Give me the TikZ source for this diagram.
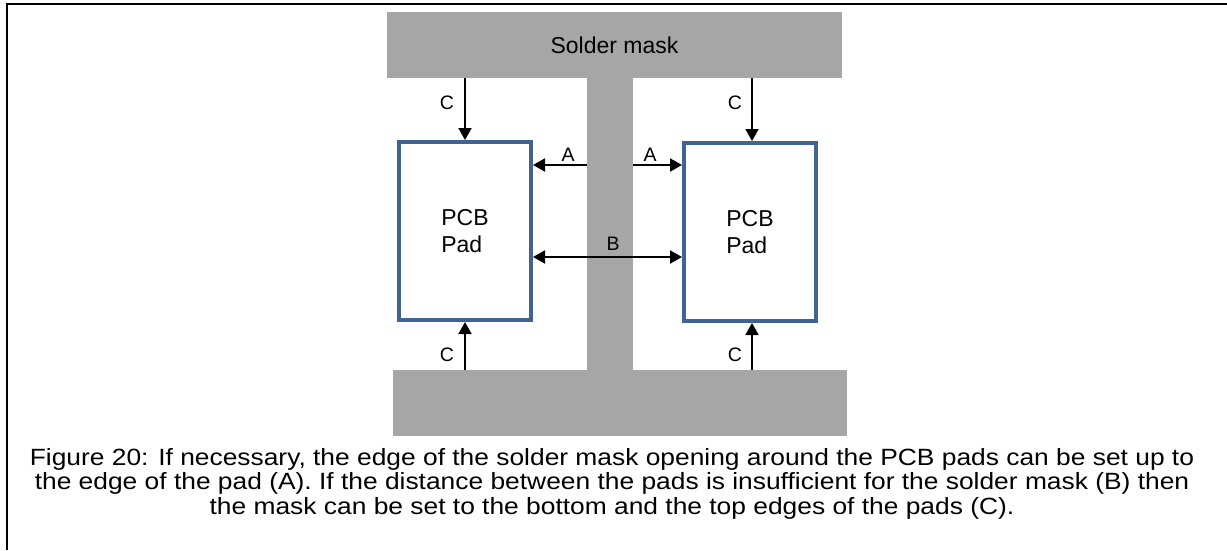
\documentclass[tikz,border=0pt]{standalone}
\usepackage{graphicx}
\usepackage{fontspec}
\setmainfont{Liberation Sans}
\usetikzlibrary{arrows.meta}
\definecolor{maskgray}{RGB}{166,166,166}
\definecolor{padblue}{RGB}{64,99,145}
\tikzset{
  maskpart/.style={fill=maskgray, draw=none, inner sep=0pt, outer sep=0pt},
  padbox/.style={draw=padblue, line width=4pt, fill=white, inner sep=0pt,
    minimum width=132pt, minimum height=178pt, align=left,
    font=\fontsize{23}{27}\selectfont},
  arr/.style={-{Triangle[length=12pt,width=13pt]}, line width=2pt, black},
  darr/.style={{Triangle[length=12pt,width=13pt]}-{Triangle[length=12pt,width=13pt]}, line width=2pt, black},
  lbl/.style={font=\fontsize{19.5}{22}\selectfont, inner sep=0pt},
  capt/.style={inner sep=0pt}
}
\begin{document}
\begin{tikzpicture}[x=1pt,y=-1pt]
\useasboundingbox (0,0) rectangle (1227,550);
% frame
\draw[line width=2.5pt] (7,550) -- (7,4) -- (1227,4);
% solder mask
\node[maskpart, minimum width=46pt, minimum height=294pt] (stem) at (610,224) {};
\node[maskpart, minimum width=455pt, minimum height=66pt,
      font=\fontsize{23}{27}\selectfont] (maskTop) at (614.5,45) {Solder mask};
\node[maskpart, minimum width=454pt, minimum height=66pt] (maskBot) at (620,403) {};
% pads
\node[padbox] (padL) at (465,231) {PCB\\Pad};
\node[padbox] (padR) at (750,232) {PCB\\Pad};
% helper coordinates for arrow rows
\coordinate (ya) at (0,165);
\coordinate (yb) at (0,257);
% C arrows
\draw[arr] (padL.north |- maskTop.south) -- (padL.north);
\draw[arr] ([xshift=2pt]padR.north |- maskTop.south) -- ([xshift=2pt]padR.north);
\draw[arr] (padL.south |- maskBot.north) -- (padL.south);
\draw[arr] ([xshift=2pt]padR.south |- maskBot.north) -- ([xshift=2pt]padR.south);
% A arrows
\draw[arr] (stem.west |- ya) -- (padL.east |- ya);
\draw[arr] (stem.east |- ya) -- (padR.west |- ya);
% B arrow
\draw[darr] (padL.east |- yb) -- (padR.west |- yb);
% labels
\node[lbl] (cTL) at (447,103) {C};
\node[lbl] (cTR) at (735,103) {C};
\node[lbl] (cBL) at (447,355) {C};
\node[lbl] (cBR) at (735,355) {C};
\node[lbl] (aL) at (568,155) {A};
\node[lbl] (aR) at (650,155) {A};
\node[lbl] (bM) at (613,244) {B};
% caption
\node[capt] (cap) at (612,485) {\scalebox{1.122}[1]{\fontsize{23.5}{24.4}\selectfont
\begin{tabular}{@{}c@{}}
Figure 20: If necessary, the edge of the solder mask opening around the PCB pads can be set up to\\
the edge of the pad (A). If the distance between the pads is insufficient for the solder mask (B) then\\
the mask can be set to the bottom and the top edges of the pads (C).
\end{tabular}}};
\end{tikzpicture}
\end{document}
